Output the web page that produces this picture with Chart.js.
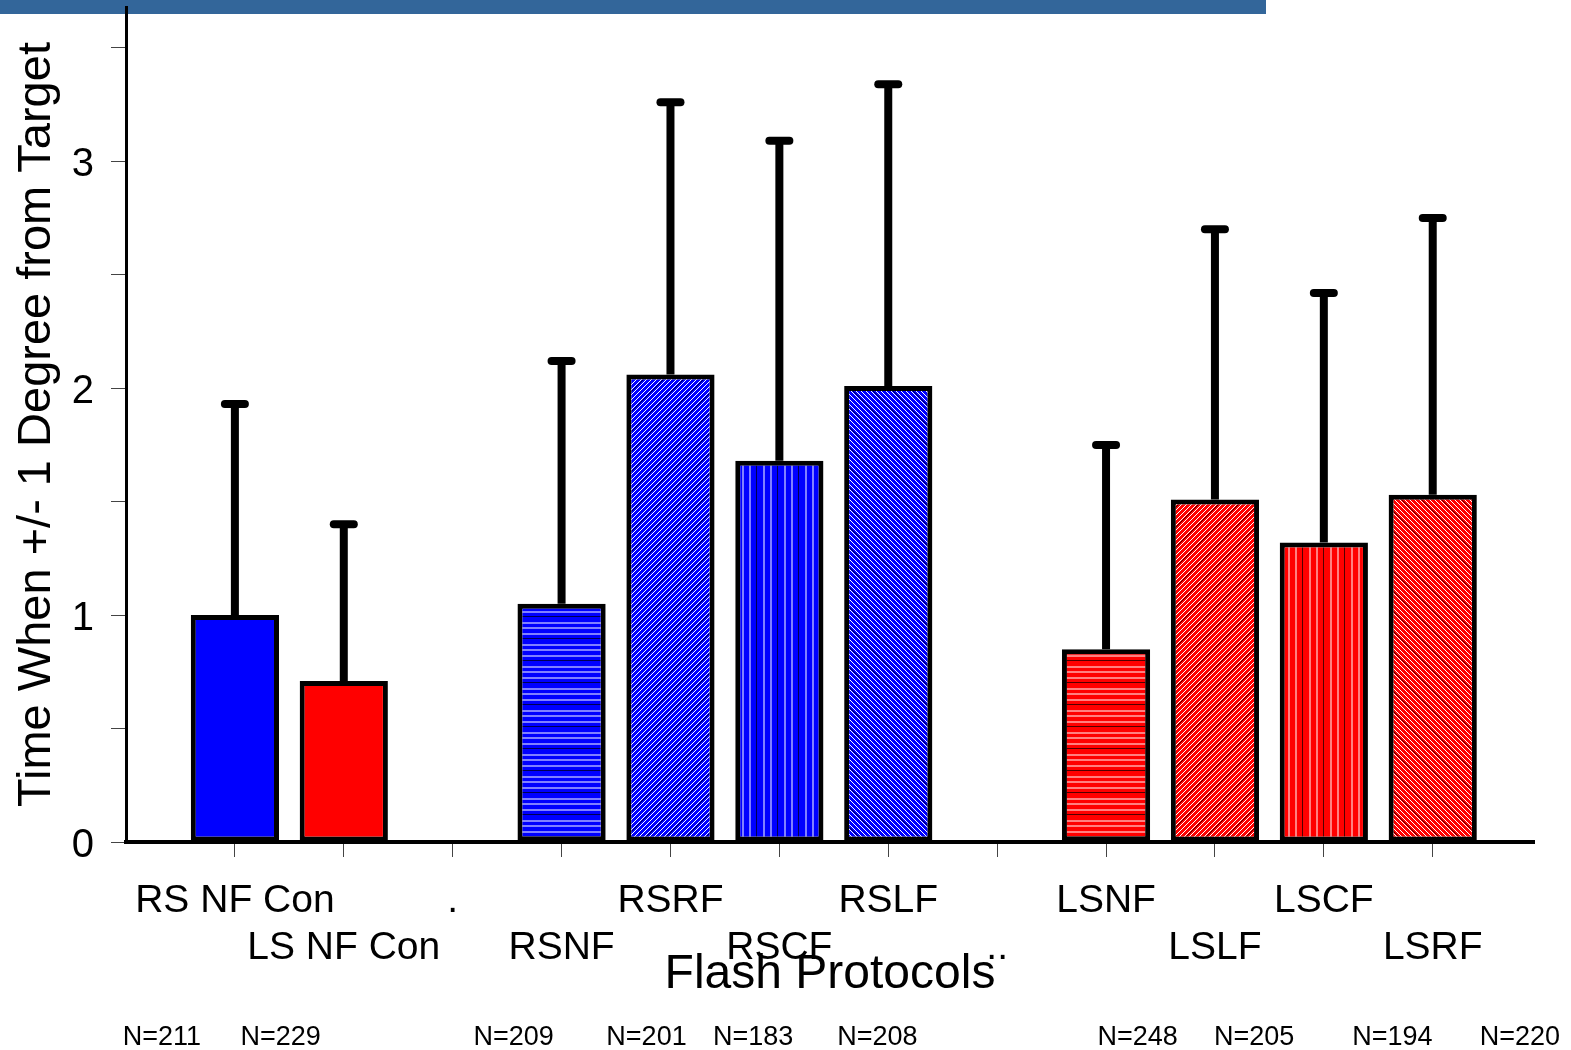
<!DOCTYPE html>
<html>
<head>
<meta charset="utf-8">
<script src="https://cdn.jsdelivr.net/npm/chart.js@4.4.1/dist/chart.umd.min.js"></script>
<style>
  html, body { margin: 0; padding: 0; background: #ffffff; }
  #wrap { position: relative; width: 1571px; height: 1050px; }
</style>
</head>
<body>
<div id="wrap"><canvas id="c" width="1571" height="1050"></canvas></div>
<script>
// ---- data ----
const categories = ['RS NF Con', 'LS NF Con', '.', 'RSNF', 'RSRF', 'RSCF', 'RSLF', '..', 'LSNF', 'LSLF', 'LSCF', 'LSRF'];
const labelRow   = [0, 1, 0, 1, 0, 1, 0, 1, 0, 1, 0, 1];
const means      = [1.00, 0.71, null, 1.05, 2.06, 1.68, 2.01, null, 0.85, 1.51, 1.32, 1.53];
const sds        = [0.93, 0.69, null, 1.07, 1.20, 1.41, 1.33, null, 0.90, 1.19, 1.10, 1.22];
const fills      = ['blue', 'red', null, 'blue-h', 'blue-d1', 'blue-v', 'blue-d2', null, 'red-h', 'red-d1', 'red-v', 'red-d2'];
const nLabels    = ['N=211', 'N=229', 'N=209', 'N=201', 'N=183', 'N=208', 'N=248', 'N=205', 'N=194', 'N=220'];
const nPositions = [0.33, 1.42, 3.56, 4.78, 5.76, 6.90, 9.29, 10.36, 11.63, 12.80];
const yTicksLabeled = [0, 1, 2, 3];

// ---- patterns ----
function makePattern(kind, base, light, dark) {
  const c = document.createElement('canvas');
  const g = c.getContext('2d');
  if (kind === 'h') {
    c.width = 8; c.height = 22;
    g.fillStyle = base; g.fillRect(0, 0, 8, 22);
    g.fillStyle = dark; g.fillRect(0, 0, 8, 1);
    g.fillStyle = light; [6, 11, 17].forEach(y => g.fillRect(0, y, 8, 2));
  } else if (kind === 'v') {
    c.width = 21; c.height = 8;
    g.fillStyle = base; g.fillRect(0, 0, 21, 8);
    g.fillStyle = dark; g.fillRect(0, 0, 1, 8);
    g.fillStyle = light; [7, 14].forEach(x => g.fillRect(x, 0, 2, 8));
  } else {
    c.width = 20; c.height = 20;
    g.fillStyle = base; g.fillRect(0, 0, 20, 20);
    for (let x = 0; x < 20; x++) {
      for (let y = 0; y < 20; y++) {
        const k = kind === 'd1' ? (x + y) % 20 : (x - y + 20) % 20;
        if (k % 5 === 0) { g.fillStyle = '#ffffff'; g.fillRect(x, y, 1, 1); }
        else if (k === 2) { g.fillStyle = dark; g.fillRect(x, y, 1, 1); }
      }
    }
  }
  return g.createPattern(c, 'repeat');
}
const BLUE = '#0000ff', RED = '#ff0000';
const patternMap = {
  'blue': BLUE, 'red': RED,
  'blue-h': makePattern('h', BLUE, '#8080ff', '#000050'),
  'blue-v': makePattern('v', BLUE, '#8080ff', '#000050'),
  'blue-d1': makePattern('d1', BLUE, '#8080ff', '#000050'),
  'blue-d2': makePattern('d2', BLUE, '#8080ff', '#000050'),
  'red-h': makePattern('h', RED, '#ff8080', '#500000'),
  'red-v': makePattern('v', RED, '#ff8080', '#500000'),
  'red-d1': makePattern('d1', RED, '#ff8080', '#500000'),
  'red-d2': makePattern('d2', RED, '#ff8080', '#500000')
};

const points = [];
const colors = [];
categories.forEach((c, i) => {
  if (means[i] !== null) {
    points.push({ x: i + 1, y: means[i] });
    colors.push(patternMap[fills[i]]);
  }
});

// ---- plugins ----
const headerPlugin = {
  id: 'header',
  beforeDraw(chart) {
    const ctx = chart.ctx;
    ctx.save();
    ctx.fillStyle = '#33669a';
    ctx.fillRect(0, 0, 1266, 14);
    ctx.restore();
  }
};

const errorBarPlugin = {
  id: 'errorBars',
  afterDatasetsDraw(chart) {
    const ctx = chart.ctx;
    const xs = chart.scales.x, ys = chart.scales.y;
    ctx.save();
    ctx.strokeStyle = '#000000';
    categories.forEach((c, i) => {
      if (means[i] === null) return;
      const px = xs.getPixelForValue(i + 1);
      const y0 = ys.getPixelForValue(means[i]);
      const y1 = ys.getPixelForValue(means[i] + sds[i]);
      ctx.lineWidth = 8;
      ctx.lineCap = 'butt';
      ctx.beginPath();
      ctx.moveTo(px, y0);
      ctx.lineTo(px, y1);
      ctx.stroke();
      ctx.lineCap = 'round';
      ctx.beginPath();
      ctx.moveTo(px - 10, y1);
      ctx.lineTo(px + 10, y1);
      ctx.stroke();
    });
    ctx.restore();
  }
};

const nPlugin = {
  id: 'nLabels',
  afterDraw(chart) {
    const ctx = chart.ctx;
    const xs = chart.scales.x;
    ctx.save();
    ctx.fillStyle = '#000000';
    ctx.font = '27px "Liberation Sans", Arial, sans-serif';
    ctx.textAlign = 'center';
    ctx.textBaseline = 'middle';
    nLabels.forEach((t, i) => {
      ctx.fillText(t, xs.getPixelForValue(nPositions[i]), chart.height - 12);
    });
    ctx.restore();
  }
};

const FONT = '"Liberation Sans", Arial, sans-serif';

new Chart(document.getElementById('c'), {
  type: 'bar',
  data: {
    datasets: [{
      data: points,
      backgroundColor: colors,
      borderColor: '#000000',
      borderWidth: 5,
      borderSkipped: false,
      categoryPercentage: 0.81,
      barPercentage: 1.0
    }]
  },
  options: {
    responsive: false,
    animation: false,
    events: [],
    layout: { padding: { left: 0, right: 37, top: 7, bottom: 0 } },
    plugins: { legend: { display: false }, tooltip: { enabled: false } },
    scales: {
      x: {
        type: 'linear',
        offset: false,
        min: 0,
        max: 12.93,
        afterBuildTicks(scale) {
          scale.ticks = categories.map((c, i) => ({ value: i + 1 }));
        },
        afterFit(scale) {
          scale.height = 208;
          scale.paddingLeft = 0; scale.paddingRight = 0;
        },
        grid: { display: true, offset: false, drawOnChartArea: false, drawTicks: true, tickLength: 15, tickColor: '#444444', tickWidth: 1 },
        border: { display: true, color: '#000000', width: 4 },
        ticks: {
          autoSkip: false, maxRotation: 0, minRotation: 0, includeBounds: false,
          padding: 21,
          color: '#000000',
          font: { family: FONT, size: 39, lineHeight: 1.2 },
          callback(value) {
            const i = Math.round(value) - 1;
            if (i < 0 || i >= categories.length) return '';
            return labelRow[i] === 0 ? [categories[i], ''] : ['', categories[i]];
          }
        },
        title: {
          display: true, text: 'Flash Protocols', color: '#000000',
          font: { family: FONT, size: 48, lineHeight: 1.2 },
          padding: { top: 46, bottom: 46 }
        }
      },
      y: {
        min: 0,
        max: 3.68,
        afterFit(scale) {
          scale.width = 126;
          scale.paddingTop = 0; scale.paddingBottom = 0;
        },
        grid: { display: true, drawOnChartArea: false, drawTicks: true, tickLength: 15, tickColor: '#444444', tickWidth: 1 },
        border: { display: true, color: '#000000', width: 3 },
        ticks: {
          stepSize: 0.5, includeBounds: false,
          padding: 17,
          labelOffset: 4,
          color: '#000000',
          font: { family: FONT, size: 40 },
          callback(value) {
            return yTicksLabeled.includes(value) ? String(value) : '';
          }
        },
        title: {
          display: true, text: 'Time When +/- 1 Degree from Target', color: '#000000',
          font: { family: FONT, size: 47, lineHeight: 1.2 },
          padding: { top: 9, bottom: 9 }
        }
      }
    }
  },
  plugins: [headerPlugin, errorBarPlugin, nPlugin]
});
</script>
</body>
</html>
